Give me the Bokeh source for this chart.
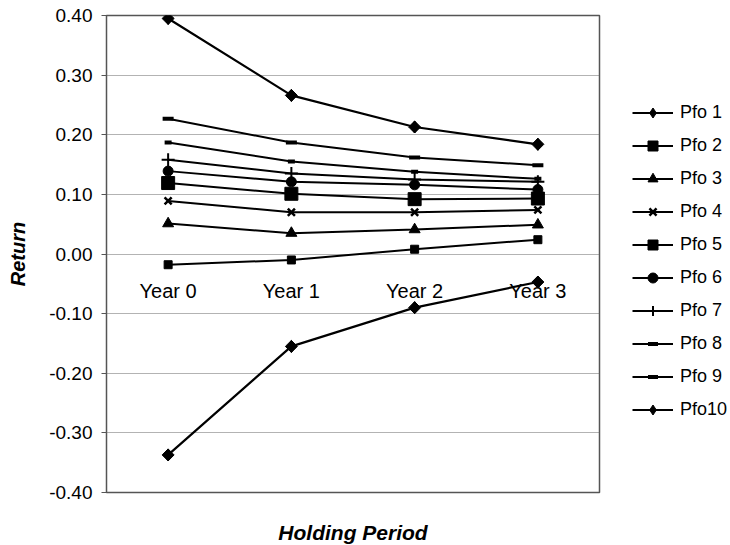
import math
from bokeh.plotting import figure
from bokeh.models import (Range1d, FixedTicker, PrintfTickFormatter, Legend, LegendItem,
                          ColumnDataSource)
from bokeh.core.properties import value
from bokeh.embed import file_html
from bokeh.resources import INLINE

# ---- data ----
years = ["Year 0", "Year 1", "Year 2", "Year 3"]
series_names = ["Pfo 1", "Pfo 2", "Pfo 3", "Pfo 4", "Pfo 5",
                "Pfo 6", "Pfo 7", "Pfo 8", "Pfo 9", "Pfo10"]
pfo1 = [0.395, 0.266, 0.213, 0.184]
pfo2 = [-0.018, -0.010, 0.008, 0.024]
pfo3 = [0.051, 0.035, 0.041, 0.049]
pfo4 = [0.089, 0.070, 0.070, 0.074]
pfo5 = [0.119, 0.101, 0.092, 0.093]
pfo6 = [0.139, 0.121, 0.116, 0.108]
pfo7 = [0.158, 0.135, 0.125, 0.121]
pfo8 = [0.187, 0.155, 0.138, 0.126]
pfo9 = [0.227, 0.187, 0.162, 0.149]
pfo10 = [-0.337, -0.155, -0.090, -0.047]
y_ticks = [-0.4, -0.3, -0.2, -0.1, 0.0, 0.1, 0.2, 0.3, 0.4]

series_values = [pfo1, pfo2, pfo3, pfo4, pfo5, pfo6, pfo7, pfo8, pfo9, pfo10]

# marker styles (style, not data); "rdiamond" = square turned 45 degrees
styles = [
    dict(marker="rdiamond", size=8.5, lw=1),
    dict(marker="square", size=8, lw=1),
    dict(marker="triangle", size=11, lw=1),
    dict(marker="x", size=10, lw=2.5),
    dict(marker="square", size=13, lw=1),
    dict(marker="circle", size=10, lw=1),
    dict(marker="cross", size=13, lw=2),
    dict(marker="dash", size=7, lw=4),
    dict(marker="dash", size=11, lw=4),
    dict(marker="rdiamond", size=8.5, lw=1),
]
line_widths = [2.2, 2, 2, 2, 2, 2, 2, 2, 2, 2.2]

FONT = "Liberation Sans"

p = figure(x_range=years, y_range=Range1d(-0.4, 0.4),
           frame_width=493, frame_height=477,
           min_border_left=106, min_border_right=131,
           min_border_top=15, min_border_bottom=52,
           output_backend="svg", toolbar_location=None,
           background_fill_color="white", border_fill_color="white")

p.outline_line_color = "#555555"
p.outline_line_width = 1.5

# grid
p.xgrid.grid_line_color = None
p.ygrid.grid_line_color = "#666666"
p.ygrid.grid_line_dash = "1 1"
p.ygrid.grid_line_width = 1
p.ygrid.ticker = FixedTicker(ticks=y_ticks)

# y axis
p.yaxis.ticker = FixedTicker(ticks=y_ticks)
p.yaxis.formatter = PrintfTickFormatter(format="%.2f")
p.yaxis.axis_line_color = None
p.yaxis.major_tick_out = 5
p.yaxis.major_tick_in = 0
p.yaxis.major_tick_line_color = "#555555"
p.yaxis.minor_tick_line_color = None
p.yaxis.major_label_text_font = FONT
p.yaxis.major_label_text_font_size = "19px"
p.yaxis.major_label_text_color = "black"
p.yaxis.major_label_standoff = 9
p.yaxis.axis_label = "Return"
p.yaxis.axis_label_text_font = FONT
p.yaxis.axis_label_text_font_style = "bold italic"
p.yaxis.axis_label_text_font_size = "20px"
p.yaxis.axis_label_text_color = "black"
p.yaxis.axis_label_standoff = 17

# x axis: only the title; category labels are drawn on the zero line
p.xaxis.ticker = FixedTicker(ticks=[])
p.xaxis.axis_line_color = None
p.xaxis.major_tick_line_color = None
p.xaxis.minor_tick_line_color = None
p.xaxis.major_label_standoff = 0
p.xaxis.axis_label = "Holding Period"
p.xaxis.axis_label_text_font = FONT
p.xaxis.axis_label_text_font_style = "bold italic"
p.xaxis.axis_label_text_font_size = "21px"
p.xaxis.axis_label_text_color = "black"
p.xaxis.axis_label_standoff = 28

# category labels along y = 0
lab_src = ColumnDataSource(dict(x=years, y=[0.0] * len(years), t=years))
p.text(x="x", y="y", text="t", source=lab_src,
       text_font=value(FONT), text_font_size="20px", text_color="black",
       text_align="center", text_baseline="alphabetic", y_offset=37)

items = []
for name, vals, st, lw in zip(series_names, series_values, styles, line_widths):
    src = ColumnDataSource(dict(x=years, y=vals))
    lr = p.line("x", "y", source=src, line_color="black", line_width=lw)
    if st["marker"] == "rdiamond":
        # legend glyph: a diamond, hidden under the wider turned square in the plot
        dr = p.scatter("x", "y", source=src, marker="diamond", size=12,
                       fill_color="black", line_color="black", line_width=1)
        p.scatter("x", "y", source=src, marker="square", size=st["size"],
                  angle=math.pi / 4, fill_color="black", line_color="black",
                  line_width=st["lw"])
        items.append(LegendItem(label=name, renderers=[lr, dr]))
    else:
        sr = p.scatter("x", "y", source=src, marker=st["marker"], size=st["size"],
                       fill_color="black", line_color="black", line_width=st["lw"])
        items.append(LegendItem(label=name, renderers=[lr, sr]))

legend = Legend(items=items, location=(33, 70),
                glyph_width=41, glyph_height=25, label_height=25,
                spacing=8, padding=0, margin=0, label_standoff=7,
                label_text_font=FONT, label_text_font_size="18px",
                label_text_color="black",
                border_line_color=None, background_fill_alpha=0)
p.add_layout(legend, "right")

open("out.html", "w").write(file_html(p, INLINE))
